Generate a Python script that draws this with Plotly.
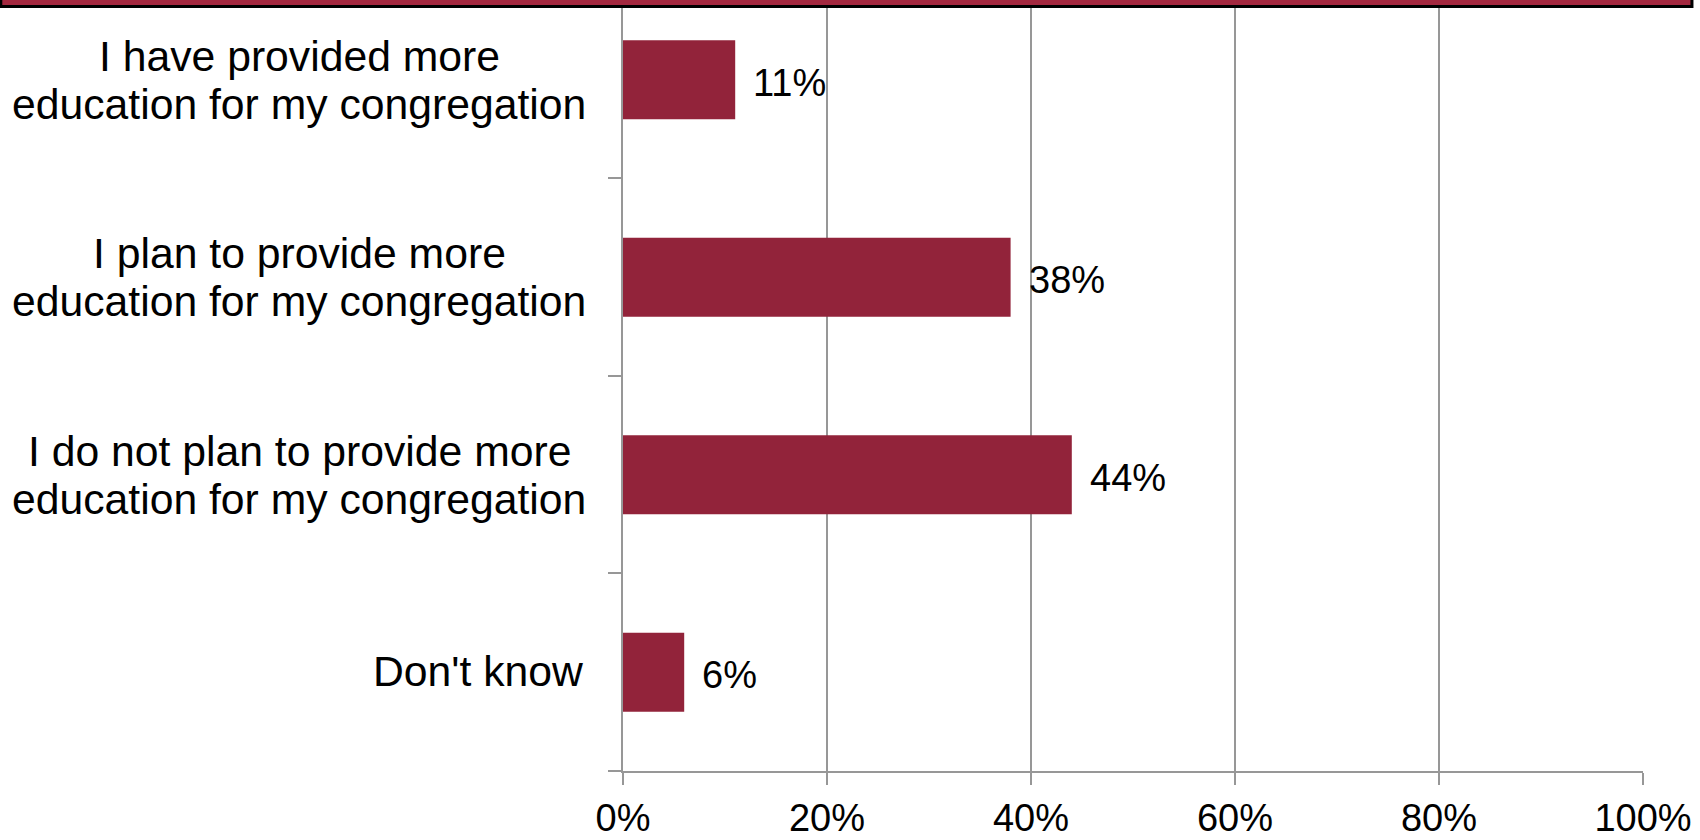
import plotly.graph_objects as go

# data, bottom to top as plotly draws a horizontal bar chart
categories = [
    "Don't know",
    "I do not plan to provide more|education for my congregation",
    "I plan to provide more|education for my congregation",
    "I have provided more|education for my congregation",
]
values = [0.06, 0.44, 0.38, 0.11]
value_labels = ["6%", "44%", "38%", "11%"]
tick_vals = [0, 0.2, 0.4, 0.6, 0.8, 1.0]
tick_text = ["0%", "20%", "40%", "60%", "80%", "100%"]

BAR_COLOR = "#92233a"
GRID_COLOR = "#979797"
FONT = "Liberation Sans, Arial, sans-serif"
LABEL_CENTER = -0.3176  # paper x of the centre of the category label block

fig = go.Figure()
fig.add_trace(
    go.Bar(
        x=values,
        y=categories,
        orientation="h",
        width=0.4,
        marker=dict(color=BAR_COLOR, line=dict(width=0)),
        hoverinfo="skip",
    )
)

annotations = []
# category labels; the two-line ones are centred, tighter line spacing than plotly's default
for cat in categories:
    lines = cat.split("|")
    if len(lines) == 1:
        annotations.append(dict(
            x=0, xref="paper", y=cat, yref="y",
            text=lines[0], showarrow=False,
            xanchor="right", yanchor="middle",
            xshift=-38, yshift=1,
            font=dict(family=FONT, size=42.7, color="black"),
        ))
    else:
        for line, shift in zip(lines, [24, -24]):
            annotations.append(dict(
                x=LABEL_CENTER, xref="paper", y=cat, yref="y",
                text=line, showarrow=False,
                xanchor="center", yanchor="middle",
                yshift=shift,
                font=dict(family=FONT, size=42.7, color="black"),
            ))

# value labels right of the bars
for cat, v, lbl in zip(categories, values, value_labels):
    annotations.append(dict(
        x=v, xref="x", y=cat, yref="y",
        text=lbl, showarrow=False,
        xanchor="left", yanchor="middle",
        xshift=16, yshift=-3,
        font=dict(family=FONT, size=38, color="black"),
    ))

fig.update_layout(
    width=1700,
    height=840,
    margin=dict(l=623, r=57, t=8, b=69, autoexpand=False),
    plot_bgcolor="white",
    paper_bgcolor="white",
    showlegend=False,
    annotations=annotations,
    shapes=[dict(
        type="rect", xref="paper", yref="paper",
        x0=-0.61, x1=1.048, y0=1.002, y1=1.3,
        fillcolor="#a3283f",
        line=dict(color="black", width=3),
        layer="above",
    )],
    xaxis=dict(
        range=[0, 1],
        tickvals=tick_vals,
        ticktext=tick_text,
        showgrid=True,
        gridcolor=GRID_COLOR,
        gridwidth=2,
        showline=True,
        linecolor=GRID_COLOR,
        linewidth=2,
        ticks="outside",
        ticklen=12,
        tickwidth=2,
        tickcolor=GRID_COLOR,
        automargin=False,
        zeroline=False,
        tickfont=dict(family=FONT, size=38, color="black"),
        fixedrange=True,
    ),
    yaxis=dict(
        range=[-0.5, 3.363],
        showticklabels=False,
        showgrid=False,
        showline=True,
        linecolor=GRID_COLOR,
        linewidth=2,
        ticks="outside",
        tickson="boundaries",
        ticklen=13,
        tickwidth=2,
        tickcolor=GRID_COLOR,
        automargin=False,
        zeroline=False,
        fixedrange=True,
    ),
)

fig.write_html(
    "out.html",
    config={"displayModeBar": False},
    post_script="document.body.style.margin='0';",
)
